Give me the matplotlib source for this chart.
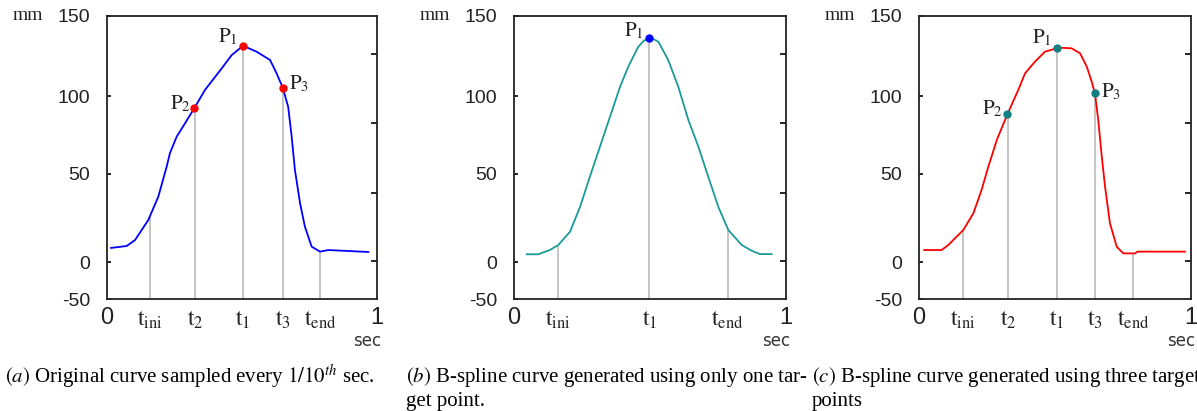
import numpy as np
import matplotlib.pyplot as plt

plt.rcParams['mathtext.fontset'] = 'stix'

##### panel (a): original curve, sampled every 1/10 sec
a_x = [0.015, 0.073, 0.104, 0.153, 0.190, 0.221, 0.233, 0.258, 0.289, 0.323,
       0.363, 0.425, 0.462, 0.504, 0.554, 0.604, 0.628, 0.651, 0.671, 0.684,
       0.696, 0.715, 0.733, 0.758, 0.789, 0.820, 0.968]
a_y = [8.0, 9.1, 12.5, 23.9, 37.1, 54.7, 63.3, 73.9, 82.5, 92.1,
       103.8, 117.3, 125.6, 131.4, 127.7, 122.5, 114.2, 105.2, 93.1, 73.9,
       52.6, 33.4, 20.1, 8.7, 5.9, 6.8, 5.7]
a_px = [0.323, 0.504, 0.651]
a_py = [92.1, 131.4, 105.2]
a_pname = ['2', '1', '3']
a_t = [0.159, 0.326, 0.504, 0.652, 0.789]
a_tname = ['ini', '2', '1', '3', 'end']

##### panel (b): b-spline with one target point
b_x = [0.047, 0.089, 0.132, 0.163, 0.206, 0.243, 0.279, 0.316, 0.353, 0.390,
       0.420, 0.457, 0.478, 0.498, 0.515, 0.531, 0.567, 0.604, 0.641, 0.678,
       0.714, 0.751, 0.788, 0.837, 0.874, 0.904, 0.947]
b_y = [4.4, 4.4, 6.8, 9.7, 17.2, 31.4, 48.5, 67.5, 86.7, 105.8,
       118.3, 130.8, 134.6, 136.1, 135.4, 133.9, 122.5, 105.8, 84.6, 67.5,
       48.5, 31.4, 18.2, 9.7, 6.4, 4.5, 4.5]
b_px = [0.498]
b_py = [136.1]
b_pname = ['1']
b_t = [0.161, 0.498, 0.786]
b_tname = ['ini', '1', 'end']

##### panel (c): b-spline with three target points
c_x = [0.019, 0.083, 0.108, 0.163, 0.200, 0.230, 0.255, 0.286, 0.325, 0.365,
       0.390, 0.426, 0.463, 0.494, 0.506, 0.561, 0.592, 0.617, 0.635, 0.647,
       0.659, 0.672, 0.684, 0.702, 0.727, 0.751, 0.794, 0.803, 0.978]
c_y = [6.8, 6.8, 9.7, 18.2, 27.7, 40.9, 54.7, 71.8, 88.3, 103.8,
       114.2, 121.4, 127.7, 129.2, 130.3, 129.8, 126.7, 118.3, 108.9, 101.6,
       84.6, 61.1, 42.8, 22.0, 8.7, 4.9, 4.9, 5.9, 5.9]
c_px = [0.325, 0.506, 0.647]
c_py = [88.3, 130.3, 101.6]
c_pname = ['2', '1', '3']
c_t = [0.163, 0.327, 0.506, 0.647, 0.788]
c_tname = ['ini', '2', '1', '3', 'end']

captions = [
    [r'$(a)$ Original curve sampled every $1/10^{th}$ sec.'],
    [r'$(b)$ B-spline curve generated using only one tar-', 'get point.'],
    [r'$(c)$ B-spline curve generated using three target', 'points'],
]

ytick_vals = [150, 100, 50, 0, -50]

# the original y axis is not evenly spaced, so map the labels onto it
mm_knots = [-50, 0, 50, 100, 150]
pos_knots = [0.0, 0.1307, 0.4417, 0.7173, 1.0]
right_tick_pos = [0.8657, 0.6219, 0.3746, 0.1343]

def fwd(v):
    return np.interp(v, mm_knots, pos_knots)

def inv(f):
    return np.interp(f, pos_knots, mm_knots)

fig = plt.figure(figsize=(11.97, 4.11), dpi=100)

panels = [
    (a_x, a_y, a_px, a_py, a_pname, a_t, a_tname, 'blue', 'red', 107, 270,
     {'2': (-14, 5), '1': (-15, 9), '3': (16, 4)}),
    (b_x, b_y, b_px, b_py, b_pname, b_t, b_tname, '#1a9a9a', 'blue', 514, 272,
     {'1': (-16, 8)}),
    (c_x, c_y, c_px, c_py, c_pname, c_t, c_tname, 'red', '#128080', 919, 272,
     {'2': (-15, 6), '1': (-15, 10), '3': (16, 2)}),
]

W, H = 1197.0, 411.0
for i, (x, y, px, py, pname, ts, tname, lc, mc, left, width, offs) in enumerate(panels):
    ax = fig.add_axes([left / W, (H - 299) / H, width / W, 283 / H])
    ax.set_yscale('function', functions=(fwd, inv))
    ax.set_xlim(0, 1)
    ax.set_ylim(-50, 150)

    # grey drop lines from the axis up to the curve
    tops = np.interp(ts, x, y)
    ax.vlines(ts, -50, tops, color='#c4c4c4', lw=1.4, zorder=1)
    ax.plot(x, y, color=lc, lw=1.3, zorder=2)
    ax.plot(px, py, 'o', color=mc, ms=5, zorder=3)
    for xx, yy, n in zip(px, py, pname):
        ax.annotate(r'$\mathrm{P}_{%s}$' % n, (xx, yy), xytext=offs[n],
                    textcoords='offset pixels', ha='center', va='center',
                    fontsize=15, color='#222222')

    ax.set_yticks(ytick_vals)
    ax.set_yticklabels([str(v) for v in ytick_vals], fontfamily='Liberation Sans',
                       fontsize=14, color='#222222')
    ax.set_yticks(inv(right_tick_pos), minor=True)
    ax.tick_params(axis='y', which='major', direction='in', length=3, width=1.2,
                   left=True, right=False, pad=12)
    ax.tick_params(axis='y', which='minor', direction='in', length=4, width=1.2,
                   left=False, right=True, labelleft=False)

    xt = [0] + ts + [1]
    xl = ['0'] + [r'$\mathrm{t}_{\mathrm{%s}}$' % n for n in tname] + ['1']
    ax.set_xticks(xt)
    ax.set_xticklabels(xl, fontsize=17, color='#222222')
    ax.tick_params(axis='x', length=0, pad=6)
    ax.xaxis.get_majorticklabels()[0].set_fontfamily('Liberation Sans')
    ax.xaxis.get_majorticklabels()[-1].set_fontfamily('Liberation Sans')

    for s in ax.spines.values():
        s.set_linewidth(1.3)
        s.set_color('#222222')

    ax.text(-94.0 / width, 1.0, 'mm', transform=ax.transAxes, ha='left', va='center',
            fontsize=14, fontfamily='Liberation Serif', color='#222222')
    ax.text(1.015, -0.148, 'sec', transform=ax.transAxes, ha='right', va='center',
            fontsize=12, fontfamily='DejaVu Sans', color='#333333')

    cap_x = [5, 406, 812][i]
    for k, line in enumerate(captions[i]):
        fig.text(cap_x / W, (H - 377 - 24 * k) / H, line, ha='left', va='center',
                 fontsize=15, fontfamily='Liberation Serif')

fig.savefig('out.png', dpi=100)
